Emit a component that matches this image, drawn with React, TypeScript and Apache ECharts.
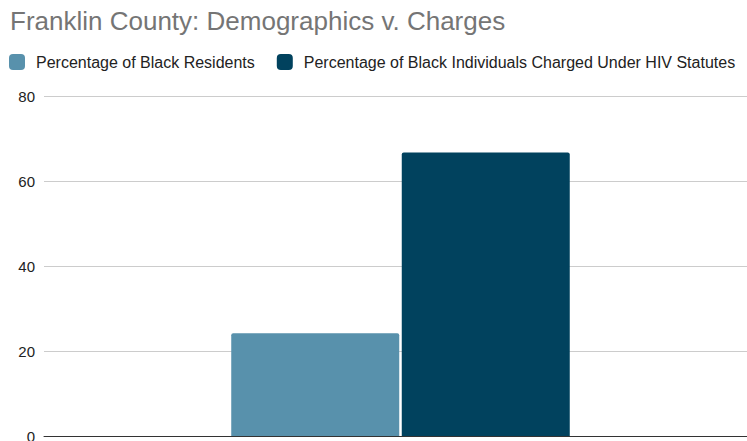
import React, { useEffect, useRef } from "react";
import * as echarts from "echarts";

const categories = [""];
const seriesNames = [
  "Percentage of Black Residents",
  "Percentage of Black Individuals Charged Under HIV Statutes",
];
const residents = [24.2];
const charged = [66.7];
const colors = ["#5891ac", "#01425e"];

export default function App() {
  const ref = useRef<HTMLDivElement>(null);
  useEffect(() => {
    if (!ref.current) return;
    const chart = echarts.init(ref.current, null, { renderer: "svg" });
    chart.setOption({
      animation: false,
      title: {
        text: "Franklin County: Demographics v. Charges",
        left: 5,
        top: 3,
        textStyle: {
          fontFamily: "Liberation Sans, Arial",
          fontSize: 26,
          fontWeight: "normal",
          color: "#757575",
        },
      },
      legend: {
        left: 4,
        top: 49,
        itemWidth: 16,
        itemHeight: 16,
        itemGap: 22,
        icon: "roundRect",
        textStyle: {
          fontFamily: "Liberation Sans, Arial",
          fontSize: 16,
          color: "#222222",
          padding: [0, 0, 0, 6],
        },
        data: seriesNames,
      },
      grid: {
        left: 44,
        right: -10,
        top: 96,
        bottom: 5,
        containLabel: false,
        outerBoundsMode: "none",
      },
      xAxis: {
        type: "category",
        data: categories,
        axisLine: { lineStyle: { color: "#333333", width: 1 } },
        axisTick: { show: false },
        axisLabel: { show: false },
      },
      yAxis: {
        type: "value",
        min: 0,
        max: 80,
        interval: 20,
        axisLine: { show: false },
        axisTick: { show: false },
        axisLabel: {
          margin: 9,
          fontFamily: "Liberation Sans, Arial",
          fontSize: 15,
          color: "#222222",
        },
        splitLine: { lineStyle: { color: "#cccccc", width: 1 } },
      },
      series: [
        {
          name: seriesNames[0],
          type: "bar",
          data: residents,
          barWidth: 168,
          barGap: "1.5%",
          itemStyle: { color: colors[0], borderRadius: [2, 2, 0, 0] },
        },
        {
          name: seriesNames[1],
          type: "bar",
          data: charged,
          barWidth: 168,
          barGap: "1.5%",
          itemStyle: { color: colors[1], borderRadius: [2, 2, 0, 0] },
        },
      ],
    });
    return () => chart.dispose();
  }, []);
  return <div ref={ref} style={{ width: 747, height: 441, position: "absolute", left: 0, top: 0 }} />;
}
